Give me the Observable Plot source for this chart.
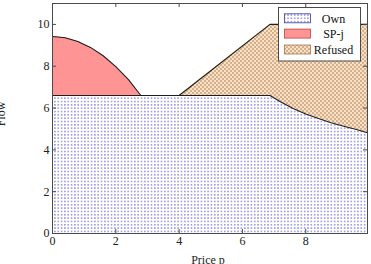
<!DOCTYPE html>
<html><head><meta charset="utf-8">
<script src="https://cdn.jsdelivr.net/npm/d3@7"></script>
<script src="https://cdn.jsdelivr.net/npm/@observablehq/plot@0.6"></script>
<style>
body{margin:0;background:#fff}
svg text{font-family:"Liberation Serif","Times New Roman",serif !important;}
</style>
</head><body><div id="chart"></div>
<script>
// Own flow (lower region)
const ownX = [0, 6.87, 7.2, 7.6, 8.0, 8.4, 8.8, 9.2, 9.6, 9.95];
const ownY = [6.6, 6.6, 6.3, 5.98, 5.72, 5.5, 5.3, 5.13, 4.97, 4.82];
// SP-j region (between 6.6 and curve)
const spjX = [0, 0.4, 0.8, 1.2, 1.6, 2.0, 2.4, 2.79];
const spjY = [9.42, 9.36, 9.18, 8.9, 8.5, 7.98, 7.36, 6.6];
const spjBase = 6.6;
// Refused region
const refX = [4, 6.87, 7.2, 7.6, 8.0, 8.4, 8.8, 9.2, 9.6, 9.95];
const refTop = [6.6, 10, 10, 10, 10, 10, 10, 10, 10, 10];
const refBottom = [6.6, 6.6, 6.3, 5.98, 5.72, 5.5, 5.3, 5.13, 4.97, 4.82];
const xTicks = [0, 2, 4, 6, 8];
const yTicks = [0, 2, 4, 6, 8, 10];
const seriesNames = ["Own", "SP-j", "Refused"];
const xLabel = "Price p", yLabel = "Flow";

const own = ownX.map((x, i) => ({x, y: ownY[i]}));
const spj = spjX.map((x, i) => ({x, y: spjY[i], b: spjBase}));
const ref = refX.map((x, i) => ({x, t: refTop[i], b: refBottom[i]}));

const W = 371, H = 264, mL = 52, mR = 4, mT = 3, mB = 31;
const pw = W - mL - mR, ph = H - mT - mB;
const ink = "#1e1e1e", frameC = "#4a4a4a";
const serif = "'Liberation Serif', 'Times New Roman', serif";

const chart = Plot.plot({
  width: W, height: H, marginLeft: mL, marginRight: mR, marginTop: mT, marginBottom: mB,
  style: {fontFamily: serif, fontSize: "12px", background: "#fff", color: "#222"},
  x: {domain: [0, 9.95], ticks: xTicks, tickSize: 0, tickPadding: 3, label: null},
  y: {domain: [0, 11], ticks: yTicks, tickSize: 0, tickPadding: 3, label: null},
  marks: [
    Plot.areaY(own, {x: "x", y1: 0, y2: "y", fill: "url(#dots)"}),
    Plot.areaY(spj, {x: "x", y1: "b", y2: "y", fill: "#ff9494"}),
    Plot.areaY(ref, {x: "x", y1: "b", y2: "t", fill: "url(#checks)"}),
    Plot.line(own, {x: "x", y: "y", stroke: ink, strokeWidth: 1.1}),
    Plot.line(spj, {x: "x", y: "y", stroke: ink, strokeWidth: 1.1}),
    Plot.line(ref, {x: "x", y: "t", stroke: ink, strokeWidth: 1.1}),
    Plot.tickX(xTicks, {x: d => d, insetTop: ph - 4, stroke: frameC}),
    Plot.tickX(xTicks, {x: d => d, insetBottom: ph - 4, stroke: frameC}),
    Plot.tickY(yTicks, {y: d => d, insetRight: pw - 4, stroke: frameC}),
    Plot.tickY(yTicks, {y: d => d, insetLeft: pw - 4, stroke: frameC}),
    Plot.frame({stroke: frameC, strokeWidth: 1}),
    Plot.text([xLabel], {frameAnchor: "bottom", dx: -2, dy: 30, text: d => d, fontSize: 12})
  ]
});

const svg = d3.select(chart);
const defs = svg.insert("defs", ":first-child");
const pd = defs.append("pattern").attr("id", "dots").attr("patternUnits", "userSpaceOnUse")
  .attr("width", 3.33).attr("height", 3.33);
pd.append("rect").attr("width", 3.33).attr("height", 3.33).attr("fill", "#fff");
pd.append("rect").attr("x", 1).attr("y", 1).attr("width", 1.3).attr("height", 1.3).attr("fill", "#6464d6");
const pc = defs.append("pattern").attr("id", "checks").attr("patternUnits", "userSpaceOnUse")
  .attr("width", 4).attr("height", 4);
pc.append("rect").attr("width", 4).attr("height", 4).attr("fill", "#f6e2ca");
pc.append("rect").attr("width", 2).attr("height", 2).attr("fill", "#d8b088");
pc.append("rect").attr("x", 2).attr("y", 2).attr("width", 2).attr("height", 2).attr("fill", "#d8b088");

// y-axis label (rotated, partly outside as in the reference)
svg.append("text").attr("transform", `translate(5,${mT + ph / 2 - 4}) rotate(-90)`)
  .attr("text-anchor", "middle").attr("font-size", 12).attr("fill", "#222").text(yLabel);

// legend
const lg = svg.append("g").attr("font-family", serif).attr("font-size", 12);
lg.append("rect").attr("x", 278.5).attr("y", 7.5).attr("width", 82).attr("height", 53.5)
  .attr("fill", "#fff").attr("stroke", frameC);
const swFill = ["url(#dots)", "#ff9494", "url(#checks)"];
const swStroke = ["#3a3aa0", "#c04040", "#a07850"];
const rowY = [18.3, 33.6, 49.5];
seriesNames.forEach((name, i) => {
  lg.append("rect").attr("x", 284.5).attr("y", rowY[i] - 4.5).attr("width", 26).attr("height", 9)
    .attr("fill", swFill[i]).attr("stroke", swStroke[i]).attr("stroke-width", 0.8);
  lg.append("text").attr("x", 333.5).attr("y", rowY[i]).attr("dy", "0.35em")
    .attr("text-anchor", "middle").attr("fill", "#111").text(name);
});

document.getElementById("chart").appendChild(chart);
</script>
</body></html>
